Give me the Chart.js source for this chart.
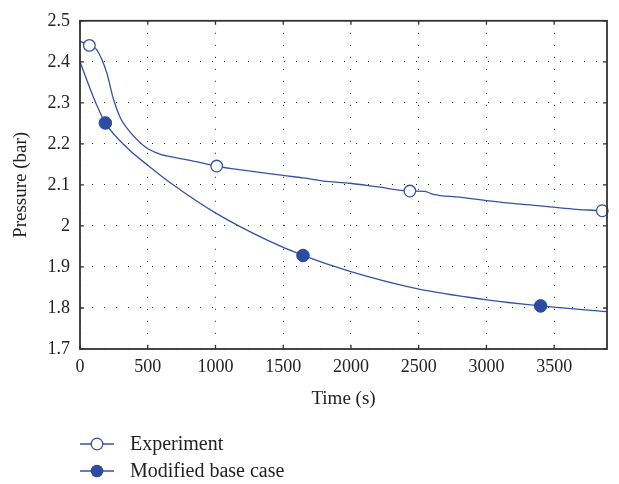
<!DOCTYPE html>
<html>
<head>
<meta charset="utf-8">
<script src="https://cdn.jsdelivr.net/npm/chart.js@4"></script>
<style>
  html, body { margin: 0; padding: 0; background: #fff; }
  #wrap { position: relative; width: 619px; height: 484px; }
  #legend { position: absolute; left: 80px; top: 430px; font-family: "Liberation Serif", serif; font-size: 20px; color: #222; }
  .leg-row { display: flex; align-items: center; height: 27px; }
  .leg-row svg { margin-right: 16px; }
</style>
</head>
<body>
<div id="wrap">
  <canvas id="chart" width="619" height="484"></canvas>
  <div id="legend">
    <div class="leg-row">
      <svg width="34" height="14"><line x1="0" y1="7" x2="34" y2="7" stroke="#3552a8" stroke-width="1.3"/><circle cx="17" cy="7" r="5.8" fill="#fff" stroke="#3552a8" stroke-width="1.3"/></svg>
      Experiment
    </div>
    <div class="leg-row">
      <svg width="34" height="14"><line x1="0" y1="7" x2="34" y2="7" stroke="#3552a8" stroke-width="1.3"/><circle cx="17" cy="7" r="6.3" fill="#2d4b9f"/></svg>
      Modified base case
    </div>
  </div>
</div>
<script>
// x ticks / y ticks
const xTicks = [0, 500, 1000, 1500, 2000, 2500, 3000, 3500];
const xTickLabels = ['0', '500', '1000', '1500', '2000', '2500', '3000', '3500'];
const yTicks = [1.7, 1.8, 1.9, 2, 2.1, 2.2, 2.3, 2.4, 2.5];
const yTickLabels = ['1.7', '1.8', '1.9', '2', '2.1', '2.2', '2.3', '2.4', '2.5'];

// experiment curve (time s, pressure bar)
const expTime = [0, 69, 123, 197, 246, 300, 345, 480, 590, 714, 836, 1009, 1131, 1300, 1500, 1650, 1800, 1993, 2200, 2435, 2546, 2607, 2800, 2976, 3149, 3395, 3641, 3855, 3890];
const expPress = [2.45, 2.44, 2.43, 2.374, 2.31, 2.262, 2.239, 2.193, 2.175, 2.166, 2.158, 2.146, 2.139, 2.132, 2.123, 2.117, 2.109, 2.104, 2.095, 2.085, 2.084, 2.077, 2.070, 2.063, 2.056, 2.049, 2.041, 2.037, 2.036];
const expMarkT = [69, 1009, 2435, 3855];
const expMarkP = [2.44, 2.146, 2.085, 2.037];

// modified base case curve
const modTime = [0, 74, 123, 187, 345, 500, 664, 1009, 1378, 1646, 1993, 2485, 2976, 3400, 3890];
const modPress = [2.40, 2.335, 2.295, 2.251, 2.191, 2.148, 2.106, 2.030, 1.966, 1.928, 1.889, 1.847, 1.821, 1.805, 1.791];
const modMarkT = [187, 1646, 3400];
const modMarkP = [2.251, 1.928, 1.805];

const LINE = '#3552a8';
const FILL = '#2d4b9f';
const FONT = 'Liberation Serif';
const pts = (xs, ys) => xs.map((x, i) => ({ x, y: ys[i] }));
const labelFor = (ticks, labels) => v => labels[ticks.findIndex(t => Math.abs(t - v) < 1e-6)];

// frame + inward ticks on all 4 sides
const frame = {
  id: 'frame',
  afterDraw(c) {
    const { ctx, chartArea: a, scales } = c;
    ctx.save();
    ctx.strokeStyle = '#333';
    ctx.lineWidth = 1.3;
    ctx.beginPath();
    xTicks.forEach(v => {
      const px = scales.x.getPixelForValue(v);
      ctx.moveTo(px, a.bottom); ctx.lineTo(px, a.bottom - 4);
      ctx.moveTo(px, a.top); ctx.lineTo(px, a.top + 4);
    });
    yTicks.forEach(v => {
      const py = scales.y.getPixelForValue(v);
      ctx.moveTo(a.left, py); ctx.lineTo(a.left + 4, py);
      ctx.moveTo(a.right, py); ctx.lineTo(a.right - 4, py);
    });
    ctx.stroke();
    ctx.lineWidth = 1.8;
    ctx.strokeRect(a.left, a.top, a.right - a.left, a.bottom - a.top);
    ctx.restore();
  }
};

new Chart(document.getElementById('chart'), {
  type: 'scatter',
  data: {
    datasets: [
      { data: pts(expTime, expPress), showLine: true, borderColor: LINE, borderWidth: 1.3, pointRadius: 0, cubicInterpolationMode: 'monotone', order: 3 },
      { data: pts(modTime, modPress), showLine: true, borderColor: LINE, borderWidth: 1.3, pointRadius: 0, cubicInterpolationMode: 'monotone', order: 3 },
      { data: pts(expMarkT, expMarkP), showLine: false, pointRadius: 5.8, pointBackgroundColor: '#fff', pointBorderColor: LINE, pointBorderWidth: 1.3, order: 1 },
      { data: pts(modMarkT, modMarkP), showLine: false, pointRadius: 6.3, pointBackgroundColor: FILL, pointBorderColor: FILL, pointBorderWidth: 1, order: 1 }
    ]
  },
  options: {
    responsive: false,
    animation: false,
    clip: false,
    layout: { padding: { left: 0, top: 14, right: 12, bottom: 70 } },
    plugins: { legend: { display: false }, tooltip: { enabled: false } },
    scales: {
      x: {
        type: 'linear', min: 0, max: 3890,
        afterBuildTicks: s => { s.ticks = xTicks.map(v => ({ value: v })); },
        afterFit: s => { s.height = 65; },
        ticks: { color: '#222', padding: 7, maxRotation: 0, callback: labelFor(xTicks, xTickLabels), font: { family: FONT, size: 18 } },
        grid: { color: '#222', lineWidth: 1, drawTicks: false },
        border: { display: false, dash: [1, 11] },
        title: { display: true, text: 'Time (s)', color: '#222', padding: { top: 8 }, font: { family: FONT, size: 19 } }
      },
      y: {
        type: 'linear', min: 1.7, max: 2.5,
        afterBuildTicks: s => { s.ticks = yTicks.map(v => ({ value: v })); },
        afterFit: s => { s.width = 80; },
        ticks: { color: '#222', padding: 10, callback: labelFor(yTicks, yTickLabels), font: { family: FONT, size: 18 } },
        grid: { color: '#222', lineWidth: 1, drawTicks: false },
        border: { display: false, dash: [1, 11] },
        title: { display: true, text: 'Pressure (bar)', color: '#222', padding: { top: 10 }, font: { family: FONT, size: 19 } }
      }
    }
  },
  plugins: [frame]
});
</script>
</body>
</html>
